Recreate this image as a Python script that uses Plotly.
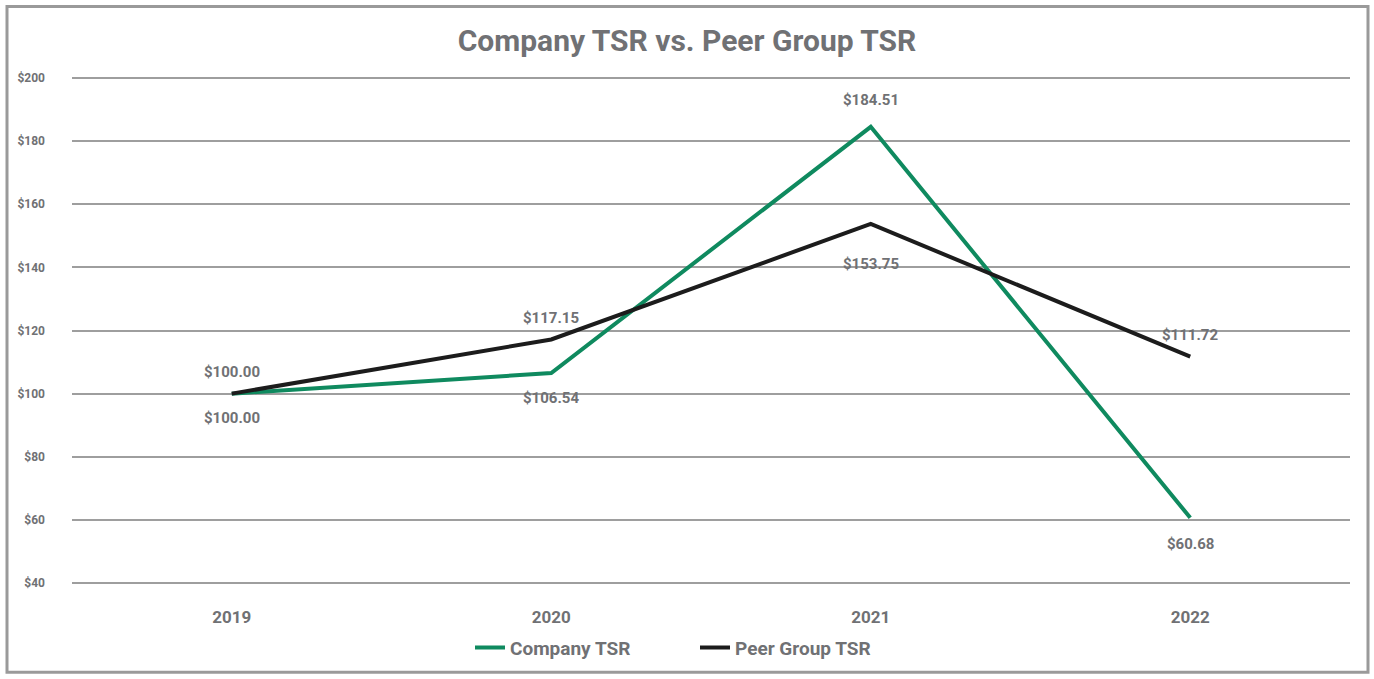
import plotly.graph_objects as go

years = ["2019", "2020", "2021", "2022"]
company_tsr = [100.00, 106.54, 184.51, 60.68]
peer_tsr = [100.00, 117.15, 153.75, 111.72]

# vertical offsets (px) of each value label from its point
company_label_shift = [-24, -25, 27, -26]
peer_label_shift = [22, 22, -40, 22]

FONT = "Roboto, Arial, sans-serif"
GREY = "#707174"
GREEN = "#0f8a5f"
BLACK = "#1c1c1c"

W, H = 1374, 679
ML, MR, MT, MB = 72, 24, 72, 86
PAD = 6  # px of headroom beyond the outer gridlines
PX_PER_UNIT = (H - MT - MB - 2 * PAD) / 160.0

fig = go.Figure()
fig.add_trace(go.Scatter(
    x=years, y=company_tsr, name="Company TSR", mode="lines",
    line=dict(color=GREEN, width=4),
))
fig.add_trace(go.Scatter(
    x=years, y=peer_tsr, name="Peer Group TSR", mode="lines",
    line=dict(color=BLACK, width=4),
))

for series, shifts in ((company_tsr, company_label_shift), (peer_tsr, peer_label_shift)):
    for i, (v, s) in enumerate(zip(series, shifts)):
        fig.add_annotation(
            x=i, y=v, xref="x", yref="y", text=f"<b>${v:,.2f}</b>", showarrow=False,
            yshift=s, xanchor="center", yanchor="middle",
            font=dict(family=FONT, size=15, color=GREY),
        )

pw = W - ML - MR
ph = H - MT - MB
fig.add_shape(
    type="rect", xref="paper", yref="paper",
    x0=(7 - ML) / pw, x1=(1368 - ML) / pw,
    y0=-(677 - MT - ph) / ph, y1=1 + (MT - 6) / ph,
    line=dict(color="#9a9a9a", width=3), layer="below",
)

fig.update_layout(
    width=W, height=H,
    margin=dict(l=ML, r=MR, t=MT, b=MB),
    paper_bgcolor="white", plot_bgcolor="white",
    title=dict(text="<b>Company TSR vs. Peer Group TSR</b>", x=0.5, xanchor="center",
               y=1 - 40 / H, yanchor="middle",
               font=dict(family=FONT, size=30, color=GREY)),
    showlegend=True,
    legend=dict(orientation="h", x=0.5 - 16 / pw, xanchor="center", y=-(652 - MT - ph) / ph,
                yanchor="middle", font=dict(family=FONT, size=19, color=GREY, weight="bold"),
                itemwidth=30, tracegroupgap=0, entrywidthmode="pixels", entrywidth=180),
    xaxis=dict(type="category", range=[-0.5, 3.5], showgrid=False, zeroline=False,
               showline=False, ticks="", ticklabelstandoff=16,
               tickfont=dict(family=FONT, size=17, color=GREY, weight="bold")),
    yaxis=dict(range=[40 - PAD / PX_PER_UNIT, 200 + PAD / PX_PER_UNIT],
               tickmode="linear", dtick=20, tick0=40, tickprefix="$",
               showgrid=True, gridcolor="#9e9e9e", gridwidth=1.5,
               zeroline=False, showline=False, ticks="", ticklabelstandoff=26,
               tickfont=dict(family=FONT, size=12, color=GREY, weight="bold")),
)

fig.write_html("out.html")
